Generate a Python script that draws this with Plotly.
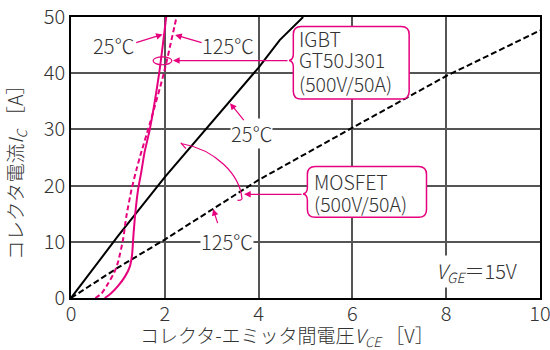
import plotly.graph_objects as go

# Output characteristics, V_GE = 15 V
# MOSFET (500V/50A)
mos25_v = [0, 1.0, 2.0, 3.0, 4.0, 4.45, 4.95]
mos25_i = [0, 11.0, 21.5, 31.3, 41.0, 45.9, 50.0]
mos125_v = [0, 1.0, 2.0, 4.0, 6.0, 8.0, 10.0]
mos125_i = [0, 5.4, 10.4, 21.0, 30.3, 39.5, 47.6]
# IGBT GT50J301 (500V/50A)
igbt25_v = [0.72, 0.85, 1.0, 1.15, 1.25, 1.30, 1.33, 1.37, 1.43, 1.50, 1.57, 1.68, 1.88, 2.03]
igbt25_i = [0, 0.8, 2.1, 3.8, 5.5, 7.5, 11.0, 15.0, 19.3, 22.5, 26.0, 30.0, 40.0, 50.0]
igbt125_v = [0.52, 0.65, 0.80, 0.92, 1.00, 1.11, 1.18, 1.29, 1.40, 1.50, 1.68, 1.98, 2.25]
igbt125_i = [0, 0.8, 2.7, 4.5, 6.3, 10.4, 14.5, 19.3, 23.0, 26.0, 31.0, 40.0, 50.0]

x_ticks = [0, 2, 4, 6, 8, 10]
y_ticks = [0, 10, 20, 30, 40, 50]

MAG = "#e6007e"
TXT = "#333333"
FONT = "Noto Sans CJK JP"
WEIGHT = 300

fig = go.Figure()
fig.add_trace(go.Scatter(x=mos25_v, y=mos25_i, mode="lines",
                         line=dict(color="black", width=2)))
fig.add_trace(go.Scatter(x=mos125_v, y=mos125_i, mode="lines",
                         line=dict(color="black", width=2, dash="6px,3px")))
fig.add_trace(go.Scatter(x=igbt25_v, y=igbt25_i, mode="lines",
                         line=dict(color=MAG, width=2, shape="spline", smoothing=0.6)))
fig.add_trace(go.Scatter(x=igbt125_v, y=igbt125_i, mode="lines",
                         line=dict(color=MAG, width=2, dash="5px,3px",
                                   shape="spline", smoothing=0.6)))


def rounded_box(x0, x1, y0, y1, notch_y, notch_x, rx=0.17, ry=1.4, ny=1.1):
    """Rounded callout box with a small brace-shaped point on its left side."""
    return (
        f"M {x0 + rx},{y1} L {x1 - rx},{y1} Q {x1},{y1} {x1},{y1 - ry} "
        f"L {x1},{y0 + ry} Q {x1},{y0} {x1 - rx},{y0} "
        f"L {x0 + rx},{y0} Q {x0},{y0} {x0},{y0 + ry} "
        f"L {x0},{notch_y - ny} Q {x0},{notch_y - 0.15} {notch_x},{notch_y} "
        f"Q {x0},{notch_y + 0.15} {x0},{notch_y + ny} "
        f"L {x0},{y1 - ry} Q {x0},{y1} {x0 + rx},{y1} Z"
    )


shapes = [
    dict(type="path", xref="x", yref="y", line=dict(color=MAG, width=1.5),
         fillcolor="white", layer="above",
         path=rounded_box(4.74, 7.21, 35.4, 48.3, 42.25, 4.65)),
    dict(type="path", xref="x", yref="y", line=dict(color=MAG, width=1.5),
         fillcolor="white", layer="above",
         path=rounded_box(5.04, 7.58, 14.35, 23.4, 18.5, 4.95)),
    # loop around the two IGBT curves
    dict(type="circle", xref="x", yref="y", x0=1.75, x1=2.15, y0=41.5, y1=42.9,
         line=dict(color=MAG, width=1.2)),
    # brace linking the two MOSFET curves
    dict(type="path", xref="x", yref="y", line=dict(color=MAG, width=1.2),
         path="M 2.45,26.6 Q 2.30,27.9 2.37,27.45 C 3.07,26.4 3.60,22.0 3.646,17.67 "
              "Q 3.62,17.3 3.55,17.4"),
]

ann = []


def label(x, y, text, bg="white", size=20, **kw):
    ann.append(dict(x=x, y=y, text=text, showarrow=False, bgcolor=bg,
                    font=dict(family=FONT, size=size, color=TXT, weight=WEIGHT),
                    borderpad=0, **kw))


def arrow(x, y, ax, ay):
    ann.append(dict(x=x, y=y, ax=ax, ay=ay, text="", showarrow=True,
                    arrowhead=2, arrowsize=1.1, arrowwidth=1.2, arrowcolor=MAG,
                    standoff=0, startstandoff=0))


label(0.90, 45.0, "25℃")
arrow(1.955, 46.9, -28, 8.7)
label(3.34, 45.0, "125℃")
arrow(2.22, 46.8, 28, 8)
arrow(2.175, 42.25, 116, 0)

label(3.85, 29.3, "25℃")
arrow(3.39, 34.67, 15, 18.4)
label(3.32, 10.0, "125℃")
arrow(3.03, 15.84, 5, 15.7)
arrow(3.69, 18.45, 59, 0)

for txt, yy in [("IGBT", 46.2), ("GT50J301", 42.35), ("(500V/50A)", 38.2)]:
    label(4.85, yy, txt, bg="rgba(0,0,0,0)", xanchor="left", size=19.5)
for txt, yy in [("MOSFET", 20.75), ("(500V/50A)", 16.9)]:
    label(5.17, yy, txt, bg="rgba(0,0,0,0)", xanchor="left", size=19.5)

label(8.65, 4.76, "<i>V</i><sub><i>GE</i></sub>＝15V")

# axis titles
ann.append(dict(xref="paper", yref="paper", x=0.46, y=-0.136, yanchor="middle",
                text="コレクタ-エミッタ間電圧<i>V</i><sub><i>CE</i></sub> ［V］",
                showarrow=False,
                font=dict(family=FONT, size=19, color=TXT, weight=WEIGHT)))
ann.append(dict(xref="paper", yref="paper", x=-0.117, y=0.463, textangle=-90,
                xanchor="center", yanchor="middle",
                text="コレクタ電流<i>I</i><sub><i>C</i></sub> ［A］",
                showarrow=False,
                font=dict(family=FONT, size=19.5, color=TXT, weight=WEIGHT)))

fig.update_layout(
    width=550, height=350,
    margin=dict(l=71, r=10, t=17, b=52),
    paper_bgcolor="white", plot_bgcolor="white",
    showlegend=False,
    font=dict(family=FONT, size=20, color=TXT, weight=WEIGHT),
    shapes=shapes, annotations=ann,
)
fig.update_xaxes(range=[0, 10], tickvals=x_ticks, showgrid=True, gridcolor="#555",
                 gridwidth=1.5, zeroline=False, showline=True, linecolor="black",
                 linewidth=1.5, mirror=True, ticks="", fixedrange=True, automargin=False,
                 ticklabeloverflow="allow", ticklabelstandoff=-3,
                 tickfont=dict(size=20, color=TXT, weight=WEIGHT))
fig.update_yaxes(range=[0, 50], tickvals=y_ticks, showgrid=True, gridcolor="#555",
                 gridwidth=1.5, zeroline=False, showline=True, linecolor="black",
                 linewidth=1.5, mirror=True, ticks="", fixedrange=True, automargin=False,
                 ticklabeloverflow="allow",
                 tickfont=dict(size=20, color=TXT, weight=WEIGHT))

fig.write_html("out.html")
